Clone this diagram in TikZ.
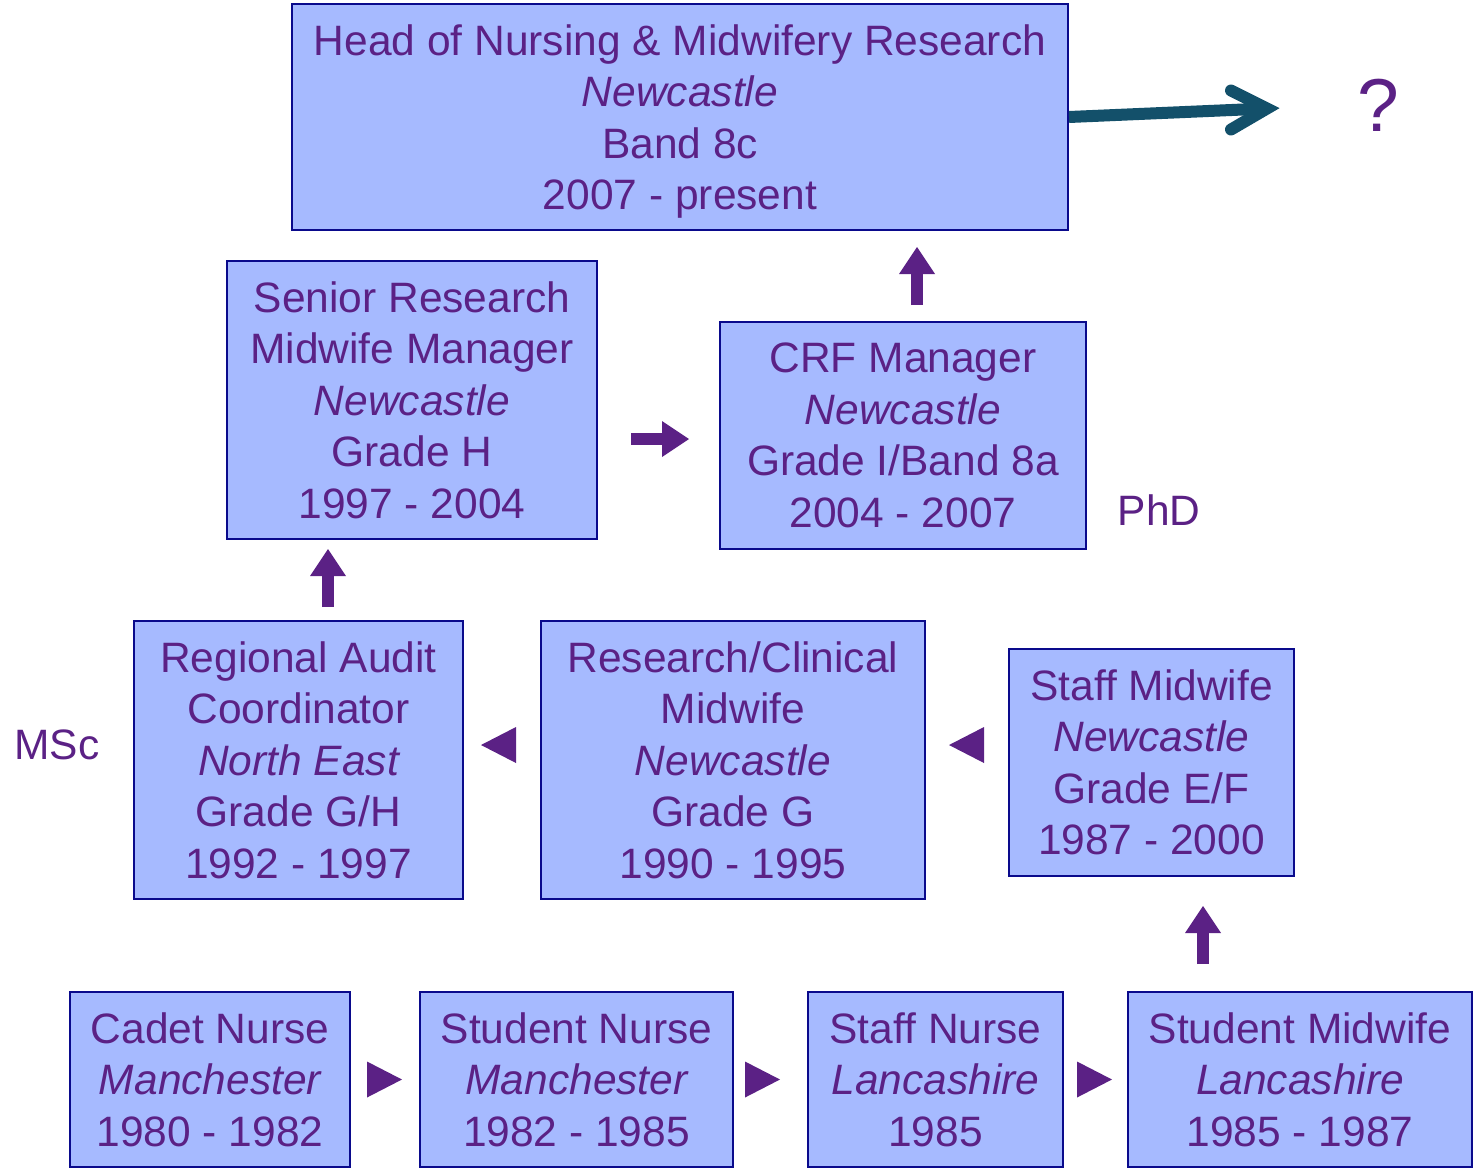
\documentclass[tikz,border=0pt]{standalone}
\usepackage{fontspec}
\setmainfont{Liberation Sans}
\usetikzlibrary{arrows.meta,calc}
\definecolor{boxfill}{RGB}{166,186,255}
\definecolor{boxline}{RGB}{10,10,140}
\definecolor{txt}{RGB}{91,33,133}
\definecolor{arr}{RGB}{91,33,133}
\definecolor{tealc}{RGB}{19,80,106}
\begin{document}
\begin{tikzpicture}[x=1pt,y=-1pt,
  box/.style={draw=boxline, fill=boxfill, line width=2pt, inner sep=0pt, align=center, text=txt, font=\fontsize{42.5}{51.5}\selectfont},
  lbl/.style={text=txt, inner sep=0pt, font=\fontsize{42.5}{51.5}\selectfont},
  fatarrow/.style={draw=arr, line width=12pt, -{Triangle[length=27pt 0 0, width=36pt 0 0, line width=0pt 0 0]}},
  tri/.style={draw=arr, line width=1pt, -{Triangle[length=35pt 0 0, width=36pt 0 0, line width=0pt 0 0]}},
  tealline/.style={draw=tealc, line width=12pt}
]
\useasboundingbox (0,0) rectangle (1479,1171);
% boxes
\node[box, minimum width=776pt, minimum height=226pt] (top) at (680,117)
  {\rule{0pt}{40pt}Head of Nursing \& Midwifery Research\\ {\itshape Newcastle}\\ Band 8c\\ 2007 - present};
\node[box, minimum width=370pt, minimum height=278pt] (senior) at (412,400)
  {Senior Research\\ Midwife Manager\\ {\itshape Newcastle}\\ Grade H\\ 1997 - 2004};
\node[box, minimum width=366pt, minimum height=227pt] (crf) at (903,435.5)
  {CRF Manager\\ {\itshape Newcastle}\\ Grade I/Band 8a\\ 2004 - 2007};
\node[box, minimum width=329pt, minimum height=278pt] (regional) at (298.5,760)
  {Regional Audit\\ Coordinator\\ {\itshape North East}\\ Grade G/H\\ 1992 - 1997};
\node[box, minimum width=384pt, minimum height=278pt] (research) at (733,760)
  {Research/Clinical\\ Midwife\\ {\itshape Newcastle}\\ Grade G\\ 1990 - 1995};
\node[box, minimum width=285pt, minimum height=227pt] (smid) at (1151.5,762.5)
  {Staff Midwife\\ {\itshape Newcastle}\\ Grade E/F\\ 1987 - 2000};
\node[box, minimum width=280pt, minimum height=175pt] (cadet) at (210,1079.5)
  {Cadet Nurse\\ {\itshape Manchester}\\ 1980 - 1982};
\node[box, minimum width=313pt, minimum height=175pt] (snurse) at (576.5,1079.5)
  {Student Nurse\\ {\itshape Manchester}\\ 1982 - 1985};
\node[box, minimum width=255pt, minimum height=175pt] (staffn) at (935.5,1079.5)
  {Staff Nurse\\ {\itshape Lancashire}\\ 1985};
\node[box, minimum width=344pt, minimum height=175pt] (smidw) at (1300,1079.5)
  {Student Midwife\\ {\itshape Lancashire}\\ 1985 - 1987};
% labels
\node[lbl] (phd) at (1159,510) {PhD};
\node[lbl] (msc) at (57,745) {MSc};
\node[text=txt, inner sep=0pt, font=\fontsize{75}{80}\selectfont] (q) at (1378,105) {?};
% bottom row triangles
\draw[tri] ($(cadet.east)+(17,0)$) -- ($(snurse.west)+(-17,0)$);
\draw[tri] ($(snurse.east)+(13,0)$) -- ($(staffn.west)+(-27,0)$);
\draw[tri] ($(staffn.east)+(15,0)$) -- ($(smidw.west)+(-15,0)$);
% up from student midwife to staff midwife
\draw[fatarrow] ($(smidw.north)+(-97,-27)$) -- ($(smid.south)+(51.5,29)$);
% middle row triangles (pointing left)
\draw[tri] ($(smid.west)+(-25,-17.5)$) -- ($(research.east)+(23,-15)$);
\draw[tri] ($(research.west)+(-26,-15)$) -- ($(regional.east)+(17,-15)$);
% up from regional to senior
\draw[fatarrow] ($(regional.north)+(29.5,-13)$) -- ($(senior.south)+(-84,9)$);
% senior to crf
\draw[fatarrow] ($(senior.east)+(33,39)$) -- ($(crf.west)+(-30,3.5)$);
% crf to top
\draw[fatarrow] ($(crf.north)+(14,-16)$) -- ($(top.south)+(237,16)$);
% teal arrow to question mark
\coordinate (qtip) at ($(top.east)+(198,-8.5)$);
\draw[tealline, line cap=butt] (top.east) -- ($(qtip)+(-10,0.4)$);
\draw[tealline, line cap=round, line join=miter] ($(qtip)+(-36,-18)$) -- (qtip) -- ($(qtip)+(-36,21)$);
\end{tikzpicture}
\end{document}
